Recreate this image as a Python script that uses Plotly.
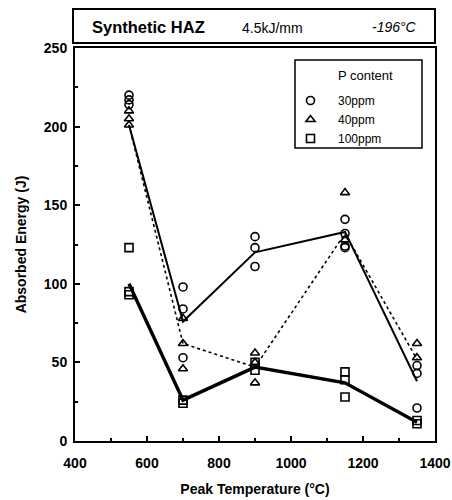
import plotly.graph_objects as go

# --- data ---
c30_T = [550, 550, 550, 700, 700, 700, 900, 900, 900, 1150, 1150, 1150, 1150, 1350, 1350, 1350]
c30_E = [220, 217, 214, 98, 84, 53, 130, 123, 111, 141, 132, 124, 123, 48, 43, 21]

t40_T = [550, 550, 550, 700, 700, 700, 900, 900, 900, 1150, 1150, 1350, 1350]
t40_E = [210, 205, 201, 78, 62, 46, 56, 50, 37, 158, 128, 62, 53]

s100_T = [550, 550, 550, 700, 700, 900, 900, 1150, 1150, 1150, 1350, 1350]
s100_E = [123, 95, 93, 26, 24, 50, 45, 44, 39, 28, 13, 11]

line_T = [550, 700, 900, 1150, 1350]
avg30 = [201, 76, 120, 133, 38]
avg40 = [201, 62, 47, 132, 52]
avg100 = [100, 26, 47, 37, 12]

x_ticks = [400, 600, 800, 1000, 1200, 1400]
y_ticks = [0, 50, 100, 150, 200, 250]

FONT = "Liberation Sans, Arial, Helvetica, sans-serif"

fig = go.Figure()

# average lines
fig.add_trace(go.Scatter(x=line_T, y=avg30, mode="lines",
                         line=dict(color="black", width=2), showlegend=False))
fig.add_trace(go.Scatter(x=line_T, y=avg40, mode="lines",
                         line=dict(color="black", width=1.6, dash="dot"), showlegend=False))
fig.add_trace(go.Scatter(x=line_T, y=avg100, mode="lines",
                         line=dict(color="black", width=3.4), showlegend=False))

fig.add_trace(go.Scatter(x=c30_T, y=c30_E, mode="markers", name="30ppm",
                         marker=dict(symbol="circle-open", size=8, color="black", line=dict(width=1.6))))
fig.add_trace(go.Scatter(x=t40_T, y=t40_E, mode="markers", name="40ppm",
                         marker=dict(symbol="triangle-up-open", size=8, color="black", line=dict(width=1.6))))
fig.add_trace(go.Scatter(x=s100_T, y=s100_E, mode="markers", name="100ppm",
                         marker=dict(symbol="square-open", size=8, color="black", line=dict(width=1.6))))

L, R, T, B = 75, 17, 48, 59
W, H = 452, 500
ph = H - T - B
pw = W - L - R

def px(xp):
    return (xp - L) / pw

def py(yp):
    return (H - B - yp) / ph

axis_common = dict(
    showline=True, linecolor="black", linewidth=2, mirror=True,
    ticks="inside", ticklen=5, tickwidth=1.5, tickcolor="black",
    showgrid=False, zeroline=False, automargin=False,
    tickfont=dict(family=FONT, size=14, color="black", weight="bold"),
)

fig.update_xaxes(range=[400, 1400], tickvals=x_ticks, ticklabelstandoff=8,
                 minor=dict(ticks="inside", ticklen=3, tickcolor="black", dtick=100, tick0=400),
                 title=dict(text="Peak Temperature (°C)", standoff=14,
                            font=dict(family=FONT, size=14, color="black", weight="bold")),
                 **axis_common)
fig.update_yaxes(range=[0, 250], tickvals=y_ticks, ticklabelstandoff=3,
                 minor=dict(ticks="inside", ticklen=3, tickcolor="black", dtick=25, tick0=0),
                 title=dict(text="Absorbed Energy (J)", standoff=14,
                            font=dict(family=FONT, size=14, color="black", weight="bold")),
                 **axis_common)

# title box
fig.add_shape(type="rect", xref="paper", yref="paper",
              x0=px(73), x1=px(435), y0=py(43), y1=py(9),
              line=dict(color="black", width=2), fillcolor="white")
fig.add_annotation(xref="paper", yref="paper", x=px(90), y=py(27), xanchor="left", yanchor="middle",
                   text="Synthetic HAZ", showarrow=False,
                   font=dict(family=FONT, size=16.5, color="black", weight="bold"))
fig.add_annotation(xref="paper", yref="paper", x=px(240), y=py(28), xanchor="left", yanchor="middle",
                   text="4.5kJ/mm", showarrow=False,
                   font=dict(family=FONT, size=14, color="black"))
fig.add_annotation(xref="paper", yref="paper", x=px(370), y=py(27), xanchor="left", yanchor="middle",
                   text="-196°C", showarrow=False,
                   font=dict(family=FONT, size=14, color="black", style="italic"))

# legend box + title
fig.add_shape(type="rect", xref="paper", yref="paper",
              x0=px(295), x1=px(422), y0=py(148), y1=py(60),
              line=dict(color="black", width=1.5), fillcolor="white", layer="above")
fig.add_annotation(xref="paper", yref="paper", x=px(365), y=py(76), xanchor="center", yanchor="middle",
                   text="P content", showarrow=False,
                   font=dict(family=FONT, size=13, color="black"))

fig.update_layout(
    width=W, height=H,
    margin=dict(l=L, r=R, t=T, b=B),
    paper_bgcolor="white", plot_bgcolor="white",
    font=dict(family=FONT, color="black"),
    legend=dict(
        x=px(283), y=py(86), xanchor="left", yanchor="top",
        bgcolor="rgba(0,0,0,0)", borderwidth=0,
        font=dict(family=FONT, size=12, color="black"),
        itemwidth=45, tracegroupgap=0,
    ),
)

fig.write_html("out.html")
